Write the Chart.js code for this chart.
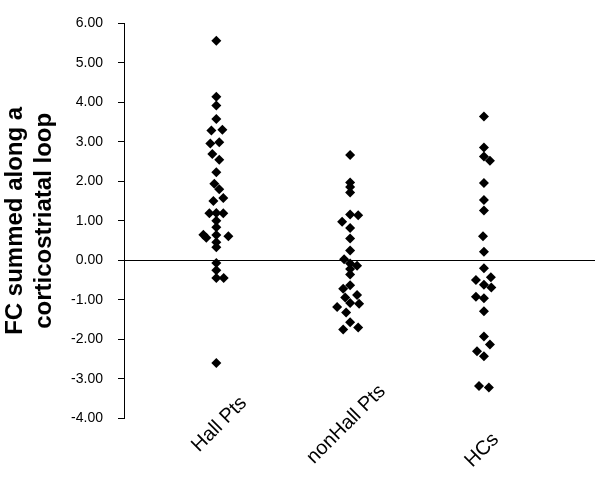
<!DOCTYPE html>
<html>
<head>
<meta charset="utf-8">
<script src="https://cdn.jsdelivr.net/npm/chart.js@4.4.0/dist/chart.umd.min.js"></script>
<style>
  html, body { margin: 0; padding: 0; background: #fff; }
  canvas { display: block; }
</style>
</head>
<body>
<canvas id="chart" width="602" height="477"></canvas>
<script>
// Categories and y-axis
const categories = ['Hall Pts', 'nonHall Pts', 'HCs'];
const yTicks = [-4, -3, -2, -1, 0, 1, 2, 3, 4, 5, 6];
const yTitle = ['FC summed along a', 'corticostriatal loop'];

// Hall Pts (x = jittered category position, y = value)
const hallX = [1.00, 1.00, 1.00, 1.00, 0.963, 1.045, 0.955, 1.022, 0.97, 1.022, 1.00,
               0.985, 1.022, 1.052, 0.978, 0.948, 1.00, 1.052, 1.00, 1.00, 0.903, 0.925,
               1.00, 1.09, 1.00, 1.00, 1.00, 1.00, 1.00, 1.055, 1.00];
const hallY = [5.56, 4.14, 3.92, 3.58, 3.29, 3.31, 2.96, 2.99, 2.69, 2.55, 2.23,
               1.94, 1.80, 1.58, 1.50, 1.19, 1.20, 1.19, 1.00, 0.84, 0.65, 0.57,
               0.64, 0.61, 0.46, 0.33, -0.07, -0.25, -0.45, -0.45, -2.60];

// nonHall Pts
const nonHallX = [2.00, 2.00, 2.00, 2.00, 2.00, 2.06, 1.94, 2.00, 2.00, 2.00, 1.955, 2.00, 2.052,
                  2.00, 2.00, 2.00, 1.948, 2.052, 1.963, 2.00, 2.067, 1.903, 1.97, 2.00, 1.948, 2.06];
const nonHallY = [2.67, 1.97, 1.86, 1.72, 1.16, 1.14, 0.98, 0.82, 0.55, 0.25, 0.03, -0.08, -0.14,
                  -0.22, -0.36, -0.63, -0.72, -0.88, -0.94, -1.08, -1.10, -1.18, -1.32, -1.57, -1.75, -1.70];

// HCs
const hcX = [3.00, 3.00, 3.00, 3.045, 3.00, 3.00, 3.00, 2.993, 3.00, 3.00, 2.94, 3.052,
             3.00, 3.055, 2.94, 3.00, 3.00, 3.00, 3.045, 2.948, 3.00, 2.963, 3.037];
const hcY = [3.64, 2.86, 2.63, 2.52, 1.96, 1.53, 1.26, 0.61, 0.22, -0.20, -0.50, -0.43,
             -0.62, -0.69, -0.92, -0.96, -1.29, -1.93, -2.13, -2.30, -2.43, -3.18, -3.22];

const FONT = "'Liberation Sans', Arial, sans-serif";

function toPoints(xs, ys) {
    return xs.map((x, i) => ({ x: x, y: ys[i] }));
}

function makeSet(label, xs, ys) {
    return {
        label: label,
        data: toPoints(xs, ys),
        pointStyle: 'rectRot',
        pointRadius: 5,
        pointHoverRadius: 5,
        backgroundColor: '#000',
        borderColor: '#000',
        borderWidth: 0
    };
}

// Rotated category labels under the plot
const categoryLabels = {
    id: 'categoryLabels',
    afterDraw(chart) {
        const ctx = chart.ctx;
        const xs = chart.scales.x;
        const ys = chart.scales.y;
        const baseY = ys.getPixelForValue(yTicks[0]) + 10;
        const nudge = [[7, 0], [0, 0], [2, 26]];
        ctx.save();
        ctx.fillStyle = '#000';
        ctx.font = `20px ${FONT}`;
        ctx.textAlign = 'center';
        ctx.textBaseline = 'alphabetic';
        categories.forEach((c, i) => {
            ctx.save();
            ctx.translate(xs.getPixelForValue(i + 1) + nudge[i][0], baseY + nudge[i][1]);
            ctx.rotate(-Math.PI / 4);
            ctx.fillText(c, 0, 0);
            ctx.restore();
        });
        ctx.restore();
    }
};

new Chart(document.getElementById('chart').getContext('2d'), {
    type: 'scatter',
    data: {
        datasets: [
            makeSet(categories[0], hallX, hallY),
            makeSet(categories[1], nonHallX, nonHallY),
            makeSet(categories[2], hcX, hcY)
        ]
    },
    options: {
        responsive: false,
        animation: false,
        devicePixelRatio: 1,
        layout: { padding: { top: 18.5, right: 7, bottom: 58.7, left: 0 } },
        plugins: {
            legend: { display: false },
            tooltip: { enabled: false }
        },
        scales: {
            x: {
                type: 'linear',
                display: false,
                min: 0.31,
                max: 3.83
            },
            y: {
                min: yTicks[0],
                max: yTicks[yTicks.length - 1],
                afterFit: s => { s.width = 124; },
                afterBuildTicks: s => { s.ticks = yTicks.map(v => ({ value: v })); },
                ticks: {
                    color: '#000',
                    padding: 15,
                    font: { family: FONT, size: 14 },
                    callback: v => Number(v).toFixed(2)
                },
                grid: {
                    drawTicks: true,
                    tickLength: 6,
                    tickColor: '#000',
                    lineWidth: 1,
                    color: c => (c.tick && c.tick.value === 0 ? '#000' : 'rgba(0,0,0,0)')
                },
                border: { display: true, color: '#000', width: 1 },
                title: {
                    display: true,
                    text: yTitle,
                    color: '#000',
                    font: { family: FONT, size: 24, weight: 'bold', lineHeight: 1.2 },
                    padding: { top: 1, bottom: 0 }
                }
            }
        }
    },
    plugins: [categoryLabels]
});
</script>
</body>
</html>
